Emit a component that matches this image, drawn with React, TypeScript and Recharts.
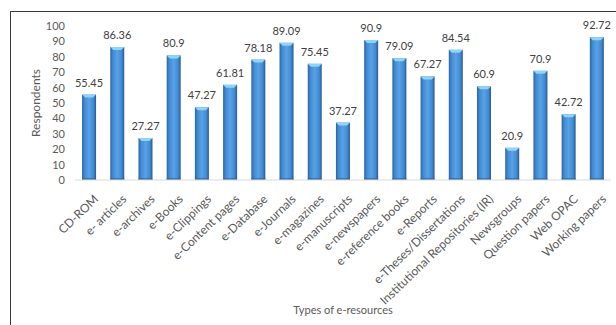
import React from 'react';
import { BarChart, Bar, XAxis, YAxis, LabelList } from 'recharts';

const categories = [
  'CD-ROM', 'e- articles', 'e-archives', 'e-Books', 'e-Clippings', 'e-Content pages',
  'e-Database', 'e-Journals', 'e-magazines', 'e-manuscripts', 'e-newspapers',
  'e-reference books', 'e-Reports', 'e-Theses/Dissertations',
  'Institutional Repositories (IR)', 'Newsgroups', 'Question papers', 'Web OPAC', 'Working papers',
];
const respondents = [
  55.45, 86.36, 27.27, 80.9, 47.27, 61.81, 78.18, 89.09, 75.45, 37.27, 90.9,
  79.09, 67.27, 84.54, 60.9, 20.9, 70.9, 42.72, 92.72,
];
const yTicks = [0, 10, 20, 30, 40, 50, 60, 70, 80, 90, 100];

const data = categories.map((name, i) => ({ name, value: respondents[i] }));

const FONT = 'Lato, "Open Sans", sans-serif';
const TEXT = '#595959';

// bar with the excel-ish bevel: darker edges, light cap on top
const BevelBar = (props: any) => {
  const { x, y, width, height } = props;
  if (!height || height <= 0) return null;
  const c = Math.min(3, height);
  return (
    <g>
      <rect x={x} y={y} width={width} height={height} fill="url(#barFill)" />
      <polygon
        points={`${x},${y} ${x + width},${y} ${x + width - 3},${y + c} ${x + 3},${y + c}`}
        fill="#8fd3f7"
      />
      <rect x={x} y={y + height - 2} width={width} height={2} fill="#2a5f98" opacity={0.6} />
    </g>
  );
};

const SlantTick = (props: any) => {
  const { x, y, payload } = props;
  return (
    <g transform={`translate(${x + 10},${y + 20})`}>
      <text
        x={0}
        y={0}
        textAnchor="end"
        transform="rotate(-44)"
        fontSize={12}
        fontFamily={FONT}
        fill={TEXT}
      >
        {payload.value}
      </text>
    </g>
  );
};

export default function App() {
  return (
    <div style={{ position: 'absolute', left: 0, top: 0, width: 616, height: 325, background: '#fff' }}>
      {/* chart frame, cut off at right and bottom */}
      <div
        style={{
          position: 'absolute', left: 10, top: 11, width: 620, height: 330,
          borderTop: '1.5px solid #3a3a3a', borderLeft: '1.5px solid #3a3a3a',
        }}
      />
      <BarChart
        width={616}
        height={325}
        data={data}
        margin={{ top: 26, right: 5, left: 0, bottom: 0 }}
        barCategoryGap="25%"
        style={{ position: 'absolute', left: 0, top: 0 }}
      >
        <defs>
          <linearGradient id="barFill" x1="0" y1="0" x2="1" y2="0">
            <stop offset="0%" stopColor="#2a64a3" />
            <stop offset="18%" stopColor="#4289d2" />
            <stop offset="50%" stopColor="#58a2e6" />
            <stop offset="82%" stopColor="#4289d2" />
            <stop offset="100%" stopColor="#25598f" />
          </linearGradient>
        </defs>
        <XAxis
          dataKey="name"
          interval={0}
          height={145}
          tickLine={false}
          tickSize={0}
          tickMargin={0}
          axisLine={{ stroke: '#d9d9d9' }}
          tick={<SlantTick />}
          label={{
            value: 'Types of e-resources', position: 'insideBottom', offset: 11,
            fontSize: 11, fontFamily: FONT, fill: TEXT,
          }}
        />
        <YAxis
          width={75}
          domain={[0, 100]}
          ticks={yTicks}
          interval={0}
          axisLine={false}
          tickLine={false}
          tickSize={6}
          tickMargin={4}
          tick={{ fontSize: 11, fontFamily: FONT, fill: TEXT }}
          label={{
            value: 'Respondents', angle: -90, position: 'center', dx: -2,
            fontSize: 12, fontFamily: FONT, fill: TEXT,
          }}
        />
        <Bar dataKey="value" shape={<BevelBar />} isAnimationActive={false}>
          <LabelList
            dataKey="value"
            position="top"
            offset={8}
            fontSize={11}
            fontFamily={FONT}
            fill="#404040"
          />
        </Bar>
      </BarChart>
    </div>
  );
}
